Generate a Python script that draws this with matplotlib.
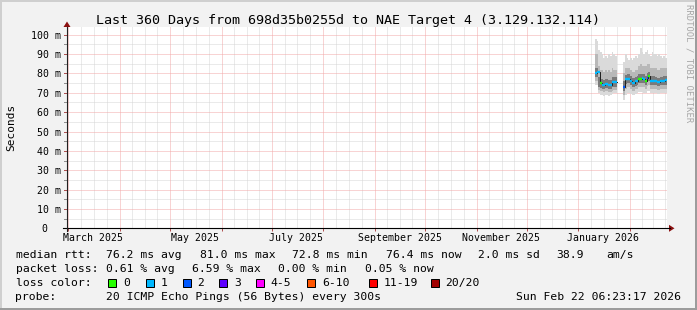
import matplotlib
matplotlib.use("Agg")
import matplotlib.pyplot as plt
from matplotlib.patches import Rectangle, Polygon
from matplotlib.lines import Line2D
import matplotlib.dates as mdates
import numpy as np
import pandas as pd

W, H = 697, 310
FONT = 'DejaVu Sans Mono'
plt.rcParams['font.family'] = [FONT, 'DejaVu Sans']

# ---------------- data ----------------
title_text = "Last 360 Days from 698d35b0255d to NAE Target 4 (3.129.132.114)"

seg1_dates = ['2026-01-11', '2026-01-12', '2026-01-13', '2026-01-14', '2026-01-15',
              '2026-01-16', '2026-01-17', '2026-01-18', '2026-01-19', '2026-01-20',
              '2026-01-21', '2026-01-22', '2026-01-23']
seg1_median = [80.4, 80.6, 81.0, 74.9, 74.0, 74.1, 74.6, 74.6, 74.0, 74.1, 75.4, 75.5, 75.6]
seg1_loss = [1, 1, 1, 0, 1, 1, 1, 1, 1, 1, 1, 1, 1]
seg1_min = [74.0, 74.0, 70.0, 69.0, 69.0, 68.5, 69.0, 69.0, 68.5, 69.0, 69.5, 70.0, 70.0]
seg1_p10 = [76.0, 76.0, 71.5, 71.0, 71.0, 70.5, 71.0, 71.0, 70.5, 70.5, 71.0, 71.5, 71.5]
seg1_p25 = [78.0, 78.0, 73.0, 72.5, 72.0, 72.0, 72.5, 72.5, 72.0, 72.0, 73.0, 73.0, 73.0]
seg1_p75 = [83.0, 83.0, 78.0, 77.0, 77.0, 76.5, 77.0, 77.0, 76.5, 76.5, 78.0, 78.0, 78.0]
seg1_p90 = [90.0, 90.0, 84.0, 82.0, 82.0, 81.0, 82.0, 81.0, 82.0, 81.0, 83.0, 82.0, 82.0]
seg1_max = [98.0, 97.0, 92.0, 91.0, 90.0, 88.0, 89.0, 88.0, 90.0, 89.0, 91.0, 90.0, 89.0]

seg2_dates = ['2026-01-28', '2026-01-29', '2026-01-30', '2026-01-31', '2026-02-01',
              '2026-02-02', '2026-02-03', '2026-02-04', '2026-02-05', '2026-02-06',
              '2026-02-07', '2026-02-08', '2026-02-09', '2026-02-10', '2026-02-11',
              '2026-02-12', '2026-02-13', '2026-02-14', '2026-02-15', '2026-02-16',
              '2026-02-17', '2026-02-18', '2026-02-19', '2026-02-20', '2026-02-21',
              '2026-02-22']
seg2_median = [72.9, 77.0, 77.3, 77.2, 76.3, 75.1, 75.2, 75.9, 76.0, 77.3, 77.3, 77.4, 77.3,
               76.1, 77.8, 78.6, 76.3, 76.0, 76.2, 76.0, 75.5, 75.4, 76.1, 76.0, 76.2, 76.4]
seg2_loss = [2, 1, 1, 1, 1, 1, 1, 1, 1, 0, 0, 1, 1, 0, 2, 0, 1, 1, 1, 1, 1, 1, 1, 1, 1, 1]
seg2_min = [66.5, 69.0, 70.0, 70.0, 69.5, 69.0, 69.0, 69.5, 70.0, 70.5, 70.5, 70.5, 70.0,
            70.0, 71.0, 71.0, 70.0, 70.0, 70.0, 70.0, 69.5, 69.5, 70.0, 70.0, 70.0, 70.0]
seg2_p10 = [69.0, 72.0, 73.0, 73.0, 72.0, 71.0, 71.0, 72.0, 72.0, 73.0, 73.0, 73.0, 73.0,
            72.0, 73.5, 74.0, 72.0, 72.0, 72.0, 72.0, 71.5, 71.5, 72.0, 72.0, 72.0, 72.0]
seg2_p25 = [71.0, 74.5, 75.0, 75.0, 74.0, 73.0, 73.0, 73.5, 74.0, 75.0, 75.0, 75.0, 75.0,
            74.0, 75.5, 76.0, 74.0, 74.0, 74.0, 74.0, 73.5, 73.5, 74.0, 74.0, 74.0, 74.0]
seg2_p75 = [76.0, 79.0, 79.5, 79.5, 78.5, 77.5, 77.5, 78.0, 78.5, 79.5, 79.5, 79.5, 79.5,
            78.5, 80.0, 80.5, 78.5, 78.5, 78.5, 78.0, 77.5, 77.5, 78.0, 78.0, 78.5, 78.5]
seg2_p90 = [80.0, 83.0, 83.0, 83.0, 82.0, 81.0, 81.0, 82.0, 82.0, 84.0, 85.0, 84.0, 84.0,
            84.0, 85.0, 85.0, 83.0, 83.0, 83.0, 83.0, 82.0, 82.0, 83.0, 83.0, 83.0, 83.0]
seg2_max = [86.0, 90.0, 88.0, 87.0, 88.0, 87.0, 88.0, 89.0, 88.0, 90.0, 93.0, 91.0, 90.0,
            91.0, 92.0, 90.0, 89.0, 91.0, 90.0, 90.0, 89.0, 90.0, 89.0, 88.0, 89.0, 88.0]

ytick_values = [0, 10, 20, 30, 40, 50, 60, 70, 80, 90, 100]
ytick_labels = ['0', '10 m', '20 m', '30 m', '40 m', '50 m', '60 m', '70 m', '80 m', '90 m', '100 m']
xtick_dates = ['2025-03-15 18:00', '2025-05-15 18:00', '2025-07-15 18:00',
               '2025-09-15 18:00', '2025-11-15 18:00', '2026-01-15 18:00']
xtick_labels = ['March 2025', 'May 2025', 'July 2025', 'September 2025',
                'November 2025', 'January 2026']

loss_labels = ['0', '1', '2', '3', '4-5', '6-10', '11-19', '20/20']
loss_colors = ['#26ff00', '#00b8ff', '#0059ff', '#5e00ff', '#ff00ff', '#ff5500', '#ff0000', '#a10000']

rtt_stats = ['76.2 ms avg', '81.0 ms max', '72.8 ms min', '76.4 ms now', '2.0 ms sd', '38.9', 'am/s']
loss_stats = ['0.61 % avg', '6.59 % max', '0.00 % min', '0.05 % now']
probe_text = '20 ICMP Echo Pings (56 Bytes) every 300s'
stamp_text = 'Sun Feb 22 06:23:17 2026'

# ---------------- layout helpers ----------------
def fx(x):
    return x / W

def fy(y):
    return 1 - y / H

fig = plt.figure(figsize=(W / 100, H / 100), dpi=100)
fig.patch.set_facecolor('#f2f2f2')

# borders
fig.add_artist(Rectangle((0, fy(2)), 1, 2 / H, transform=fig.transFigure, color='#cfcfcf', lw=0))
fig.add_artist(Rectangle((0, 0), 2 / W, 1, transform=fig.transFigure, color='#cfcfcf', lw=0))
fig.add_artist(Rectangle((fx(695), 0), 2 / W, 1, transform=fig.transFigure, color='#9c9c9c', lw=0))
fig.add_artist(Rectangle((0, 0), 1, 2.5 / H, transform=fig.transFigure, color='#9c9c9c', lw=0))

X0, X1, YT, YB = 67, 667, 27, 228.3
ax = fig.add_axes([fx(X0), fy(YB), (X1 - X0) / W, (YB - YT) / H])
ax.set_facecolor('white')
for s in ax.spines.values():
    s.set_visible(False)
ax.set_xticks([])
ax.set_yticks([])

t_start = pd.Timestamp('2025-02-28 05:17')
t_end = t_start + pd.Timedelta(days=360)
ax.set_xlim(mdates.date2num(t_start), mdates.date2num(t_end))
ax.set_ylim(0, 104)
axh = YB - YT

# grid
xt = ax.get_xaxis_transform()
yt = ax.get_yaxis_transform()
month_starts = pd.date_range('2025-03-01', '2026-02-01', freq='MS')
minor_x = []
for ms in month_starts:
    nxt = ms + pd.offsets.MonthBegin(1)
    span = nxt - ms
    for k in (1, 2, 3):
        minor_x.append(ms + span * k / 4)
minor_x = [m for m in minor_x if m < t_end]
feb = pd.Timestamp('2025-02-01'); span = pd.Timestamp('2025-03-01') - feb
for k in (1, 2, 3):
    m = feb + span * k / 4
    if m > t_start:
        minor_x.append(m)

dots = (0, (1, 1))
GRID_MINOR = '#d6d6d6'
GRID_MAJOR = '#f3a8a8'
ax.vlines(mdates.date2num(minor_x), 0, 1, transform=xt, colors=GRID_MINOR, lw=0.72,
          linestyles=dots, zorder=1)
for v in range(5, 104, 5):
    if v % 10:
        ax.axhline(v, color=GRID_MINOR, lw=0.72, ls=dots, zorder=1)
for v in range(10, 104, 10):
    ax.axhline(v, color=GRID_MAJOR, lw=0.72, ls=dots, zorder=1.1)
ax.vlines(mdates.date2num(month_starts), 0, 1, transform=xt, colors=GRID_MAJOR, lw=0.72,
          linestyles=dots, zorder=1.1)
# small tick marks
ax.vlines(mdates.date2num(month_starts), -3 / axh, 0, transform=xt, colors='#b05050', lw=0.72, clip_on=False)
for v in range(0, 104, 5):
    ax.plot([-3 / 600, 0], [v, v], transform=yt, color='#909090' if v % 10 else '#b05050', lw=0.72, clip_on=False)

# ---------------- smoke + median ----------------
segments = [
    (seg1_dates, seg1_median, seg1_loss, seg1_min, seg1_p10, seg1_p25, seg1_p75, seg1_p90, seg1_max),
    (seg2_dates, seg2_median, seg2_loss, seg2_min, seg2_p10, seg2_p25, seg2_p75, seg2_p90, seg2_max),
]
for dates, med, loss, mn, p10, p25, p75, p90, mx in segments:
    d = pd.to_datetime(dates)
    edges = mdates.date2num(list(d) + [d[-1] + pd.Timedelta(days=1)])
    ext = lambda a: np.append(np.asarray(a, float), a[-1])
    ax.fill_between(edges, ext(mn), ext(mx), step='post', color='#dadada', lw=0, zorder=2)
    ax.fill_between(edges, ext(p10), ext(p90), step='post', color='#b8b8b8', lw=0, zorder=2.1)
    ax.fill_between(edges, ext(p25), ext(p75), step='post', color='#7a7a7a', lw=0, zorder=2.2)
    ax.step(edges, ext(med), where='post', color='#202020', lw=0.72, zorder=3)
    for i in range(len(med)):
        ax.hlines(med[i], edges[i], edges[i + 1], colors=loss_colors[loss[i]], lw=1.7, zorder=4)

# ---------------- axes lines and arrows ----------------
fig.add_artist(Line2D([fx(63), fx(670)], [fy(YB), fy(YB)], transform=fig.transFigure, color='black', lw=0.8))
fig.add_artist(Line2D([fx(X0), fx(X0)], [fy(YB + 3), fy(YT)], transform=fig.transFigure, color='#202020', lw=0.8))
arrow_c = '#8b1010'
fig.add_artist(Polygon([[fx(X0 - 3.5), fy(YT)], [fx(X0 + 3.5), fy(YT)], [fx(X0), fy(YT - 5.5)]],
                       closed=True, transform=fig.transFigure, color=arrow_c, lw=0))
fig.add_artist(Polygon([[fx(669), fy(YB - 3.5)], [fx(669), fy(YB + 3.5)], [fx(674.5), fy(YB)]],
                       closed=True, transform=fig.transFigure, color=arrow_c, lw=0))

# ---------------- texts ----------------
fig.text(fx(348.5), fy(24), title_text, ha='center', va='baseline', fontsize=9.6, family=FONT)
fig.text(fx(10.8), fy(127), 'Seconds', ha='center', va='center', rotation=90, fontsize=8.0, family=FONT)
fig.text(fx(689.5), fy(63), 'RRDTOOL / TOBI OETIKER', ha='center', va='center', rotation=270,
         fontsize=6.4, family=FONT, color='#a6a6a6')

for v, lab in zip(ytick_values, ytick_labels):
    xr = -6 / 600 if lab != '0' else -19.5 / 600
    ax.text(xr, v, lab, transform=yt, ha='right', va='center_baseline', fontsize=7.1, family=FONT, clip_on=False)
for dstr, lab in zip(xtick_dates, xtick_labels):
    ax.text(mdates.date2num(pd.Timestamp(dstr)), -(241 - YB) / axh, lab, transform=xt, ha='center',
            va='baseline', fontsize=7.1, family=FONT, clip_on=False)

LFS = 8.2
fig.text(fx(15.5), fy(258), 'median rtt:', ha='left', va='baseline', fontsize=LFS, family=FONT)
for xpos, s in zip([106.5, 199.5, 292.5, 386, 478.5, 556, 606.5], rtt_stats):
    fig.text(fx(xpos), fy(258), s, ha='left', va='baseline', fontsize=LFS, family=FONT)
fig.text(fx(15.5), fy(272), 'packet loss:', ha='left', va='baseline', fontsize=LFS, family=FONT)
for xpos, s in zip([106.5, 192.5, 278.5, 365], loss_stats):
    fig.text(fx(xpos), fy(272), s, ha='left', va='baseline', fontsize=LFS, family=FONT)
fig.text(fx(15.5), fy(286), 'loss color:', ha='left', va='baseline', fontsize=LFS, family=FONT)
box_x = [108.3, 145.7, 182.7, 219.3, 256, 307.3, 368.7, 430.7]
for bx, lab, col in zip(box_x, loss_labels, loss_colors):
    fig.add_artist(Rectangle((fx(bx), fy(286.5)), 8 / W, 8 / H, transform=fig.transFigure,
                             facecolor=col, edgecolor='black', lw=0.72))
    fig.text(fx(bx + 14.5), fy(286), lab, ha='left', va='baseline', fontsize=LFS, family=FONT)
fig.text(fx(15.5), fy(300), 'probe:', ha='left', va='baseline', fontsize=LFS, family=FONT)
fig.text(fx(106.5), fy(300), probe_text, ha='left', va='baseline', fontsize=LFS, family=FONT)
fig.text(fx(680.5), fy(300), stamp_text, ha='right', va='baseline', fontsize=LFS, family=FONT)

fig.savefig('out.png', dpi=100, facecolor=fig.get_facecolor())
